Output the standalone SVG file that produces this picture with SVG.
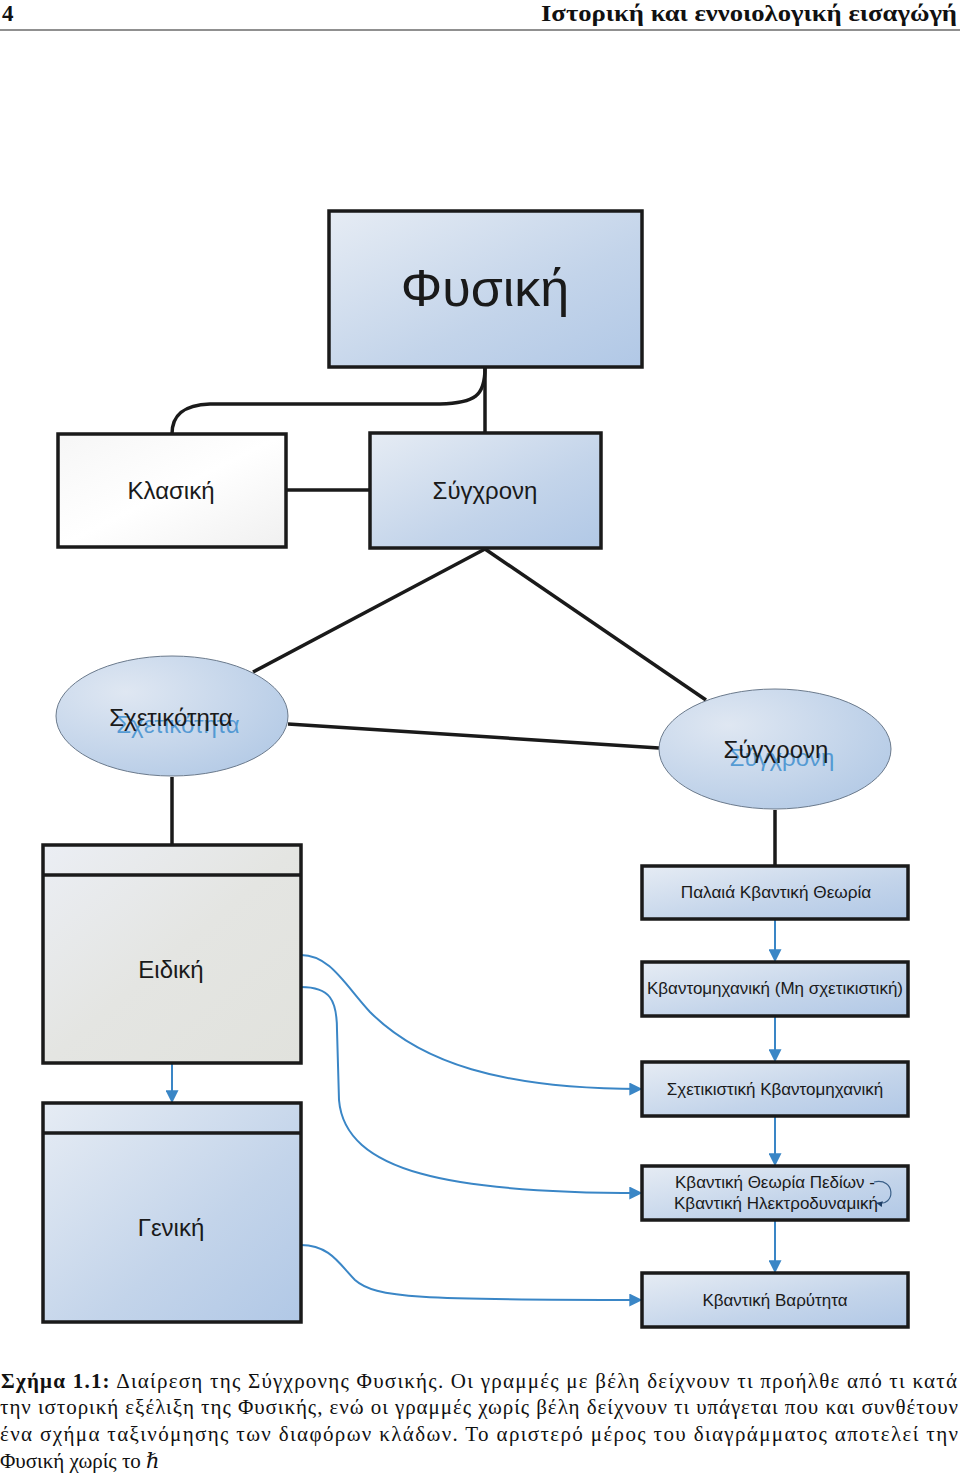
<svg xmlns="http://www.w3.org/2000/svg" width="960" height="1475" viewBox="0 0 960 1475">
<style>
.box{stroke:#1a1a1a;stroke-width:3.5}
.lbl{font-family:"Liberation Sans","DejaVu Sans",sans-serif;fill:#1a1a1a;text-anchor:middle}
.blk{fill:none;stroke:#1a1a1a;stroke-width:3.5}
.blu{fill:none;stroke:#3a86c6;stroke-width:2}
.cap{font-family:"Liberation Serif","DejaVu Serif",serif;font-size:21px;fill:#111}
.ghost{font-family:"Liberation Sans","DejaVu Sans",sans-serif;fill:#3f8fcf;fill-opacity:0.85;text-anchor:middle}
</style>
<defs>
<linearGradient id="gb" x1="0" y1="0" x2="1" y2="1">
<stop offset="0" stop-color="#e6ecf4"/>
<stop offset="0.6" stop-color="#c3d4ea"/>
<stop offset="1" stop-color="#b1c8e6"/>
</linearGradient>
<linearGradient id="gw" x1="0" y1="0" x2="1" y2="1">
<stop offset="0" stop-color="#f6f6f6"/>
<stop offset="0.5" stop-color="#ffffff"/>
<stop offset="1" stop-color="#f0f0f0"/>
</linearGradient>
<linearGradient id="gg" x1="0" y1="0" x2="1" y2="1">
<stop offset="0" stop-color="#ebeef4"/>
<stop offset="0.5" stop-color="#e4e5e2"/>
<stop offset="1" stop-color="#e1e2dd"/>
</linearGradient>
<radialGradient id="ge" cx="0.3" cy="0.3" r="0.8">
<stop offset="0" stop-color="#dfe7f2"/>
<stop offset="1" stop-color="#b5cbe6"/>
</radialGradient>
<marker id="ar" viewBox="0 0 10 10" refX="9" refY="5" markerWidth="6.5" markerHeight="6.5" orient="auto" markerUnits="strokeWidth">
<path d="M0,0 L10,5 L0,10 z" fill="#3a86c6"/>
</marker>
<marker id="ars" viewBox="0 0 10 10" refX="9" refY="5" markerWidth="5" markerHeight="5" orient="auto" markerUnits="strokeWidth">
<path d="M0,0 L10,5 L0,10 z" fill="#1f3f66"/>
</marker>
</defs>

<rect width="960" height="1475" fill="#ffffff"/>

<g id="header">
<text x="2" y="21" style="font-family:'Liberation Serif','DejaVu Serif',serif;font-size:23px;font-weight:bold;fill:#111">4</text>
<text x="957" y="21" text-anchor="end" textLength="416" lengthAdjust="spacingAndGlyphs" style="font-family:'Liberation Serif','DejaVu Serif',serif;font-size:23px;font-weight:bold;fill:#111">Ιστορική και εννοιολογική εισαγώγή</text>
<line x1="0" y1="30" x2="960" y2="30" stroke="#222" stroke-width="1.2"/>
</g>

<g id="connectors">
<path class="blk" d="M485,368 L485,433"/>
<path class="blk" d="M485,368 C485,396 475,403 440,404 L210,404 C182,405 172,416 172,434"/>
<path class="blk" d="M286,490 L370,490"/>
<path class="blk" d="M485,549 L253,672"/>
<path class="blk" d="M485,549 L706,700"/>
<path class="blk" d="M288,724 L659,748"/>
<path class="blk" d="M172,777 L172,845"/>
<path class="blk" d="M775,810 L775,866"/>
<path class="blu" marker-end="url(#ar)" d="M172,1064 L172,1102"/>
<path class="blu" marker-end="url(#ar)" d="M775,920 L775,961"/>
<path class="blu" marker-end="url(#ar)" d="M775,1017 L775,1061"/>
<path class="blu" marker-end="url(#ar)" d="M775,1117 L775,1165"/>
<path class="blu" marker-end="url(#ar)" d="M775,1221 L775,1272"/>
<path class="blu" marker-end="url(#ar)" d="M301,955 C330,955 345,985 370,1012 C420,1062 500,1089 641,1089"/>
<path class="blu" marker-end="url(#ar)" d="M301,987 C330,987 337,1000 337,1030 L339,1100 C345,1172 450,1193 641,1193"/>
<path class="blu" marker-end="url(#ar)" d="M301,1245 C330,1245 340,1265 355,1280 C375,1298 420,1300 641,1300"/>
</g>

<g id="n-fysiki">
<rect class="box" x="329" y="211" width="313" height="156" fill="url(#gb)"/>
<text class="lbl" x="485" y="306" font-size="52">Φυσική</text>
</g>

<g id="n-klasiki">
<rect class="box" x="58" y="434" width="228" height="113" fill="url(#gw)"/>
<text class="lbl" x="171" y="499" font-size="24">Κλασική</text>
</g>

<g id="n-sygxroni">
<rect class="box" x="370" y="433" width="231" height="115" fill="url(#gb)"/>
<text class="lbl" x="485" y="499" font-size="24">Σύγχρονη</text>
</g>

<g id="n-sxetikotita">
<ellipse cx="172" cy="716" rx="116" ry="60" fill="url(#ge)" stroke="#6b7a8c" stroke-width="1"/>
<text class="ghost" x="178" y="733" font-size="24">Σχετικότητα</text>
<text class="lbl" x="171" y="726" font-size="24">Σχετικότητα</text>
</g>

<g id="n-sygxroni-ell">
<ellipse cx="775" cy="749" rx="116" ry="60" fill="url(#ge)" stroke="#6b7a8c" stroke-width="1"/>
<text class="ghost" x="782" y="766" font-size="24">Σύγχρονη</text>
<text class="lbl" x="776" y="758" font-size="24">Σύγχρονη</text>
</g>

<g id="n-eidiki">
<rect class="box" x="43" y="845" width="258" height="218" fill="url(#gg)"/>
<line x1="43" y1="875" x2="301" y2="875" stroke="#1a1a1a" stroke-width="3.5"/>
<text class="lbl" x="171" y="978" font-size="24">Ειδική</text>
</g>

<g id="n-geniki">
<rect class="box" x="43" y="1103" width="258" height="219" fill="url(#gb)"/>
<line x1="43" y1="1133" x2="301" y2="1133" stroke="#1a1a1a" stroke-width="3.5"/>
<text class="lbl" x="171" y="1236" font-size="24">Γενική</text>
</g>

<g id="n-palaia">
<rect class="box" x="642" y="866" width="266" height="53" fill="url(#gb)"/>
<text class="lbl" x="776" y="898" font-size="17.2">Παλαιά Κβαντική Θεωρία</text>
</g>

<g id="n-kvantomix">
<rect class="box" x="642" y="962" width="266" height="54" fill="url(#gb)"/>
<text class="lbl" x="775" y="994" font-size="17" textLength="256" lengthAdjust="spacingAndGlyphs">Κβαντομηχανική (Μη σχετικιστική)</text>
</g>

<g id="n-sxetikistiki">
<rect class="box" x="642" y="1062" width="266" height="54" fill="url(#gb)"/>
<text class="lbl" x="775" y="1095" font-size="17">Σχετικιστική Κβαντομηχανική</text>
</g>

<g id="n-ktp">
<rect class="box" x="642" y="1166" width="266" height="54" fill="url(#gb)"/>
<text class="lbl" x="775" y="1188" font-size="17">Κβαντική Θεωρία Πεδίων -</text>
<text class="lbl" x="776" y="1209" font-size="17">Κβαντική Ηλεκτροδυναμική</text>
<path fill="none" stroke="#3a5f88" stroke-width="1.2" marker-end="url(#ars)" d="M874,1182 C896,1177 896,1207 877,1203"/>
</g>

<g id="n-varytita">
<rect class="box" x="642" y="1273" width="266" height="54" fill="url(#gb)"/>
<text class="lbl" x="775" y="1306" font-size="17">Κβαντική Βαρύτητα</text>
</g>

<g id="caption">
<text class="cap" x="1" y="1388" textLength="956" lengthAdjust="spacing"><tspan font-weight="bold">Σχήμα 1.1:</tspan> Διαίρεση της Σύγχρονης Φυσικής. Οι γραμμές με βέλη δείχνουν τι προήλθε από τι κατά</text>
<text class="cap" x="0" y="1414" textLength="958" lengthAdjust="spacing">την ιστορική εξέλιξη της Φυσικής, ενώ οι γραμμές χωρίς βέλη δείχνουν τι υπάγεται που και συνθέτουν</text>
<text class="cap" x="0" y="1441" textLength="958" lengthAdjust="spacing">ένα σχήμα ταξινόμησης των διαφόρων κλάδων. Το αριστερό μέρος του διαγράμματος αποτελεί την</text>
<text class="cap" x="0" y="1468">Φυσική χωρίς το <tspan font-style="italic">ℏ</tspan></text>
</g>
</svg>
